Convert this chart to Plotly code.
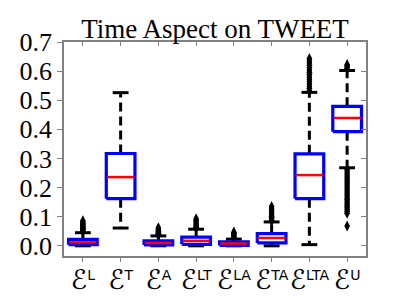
import plotly.graph_objects as go

# ---- data ----
sup_labels = ["L", "T", "A", "LT", "LA", "TA", "LTA", "U"]
categories = ['<span style="font-size:27px">ℰ</span><sup>' + s + '</sup>' for s in sup_labels]
q1 = [0.004, 0.162, 0.003, 0.005, 0.001, 0.010, 0.162, 0.392]
median = [0.012, 0.236, 0.010, 0.017, 0.008, 0.027, 0.243, 0.439]
q3 = [0.022, 0.317, 0.017, 0.030, 0.014, 0.042, 0.316, 0.479]
lower_whisker = [0.000, 0.061, 0.000, 0.000, 0.000, 0.000, 0.004, 0.268]
upper_whisker = [0.045, 0.526, 0.034, 0.057, 0.023, 0.082, 0.527, 0.602]
outliers = [
    [0.048, 0.051, 0.054, 0.057, 0.060, 0.063, 0.066, 0.069, 0.072, 0.075, 0.078, 0.082, 0.086],
    [],
    [0.037, 0.040, 0.043, 0.046, 0.049, 0.052, 0.055, 0.058, 0.062],
    [0.060, 0.063, 0.066, 0.070, 0.074, 0.078, 0.083, 0.088, 0.093],
    [0.026, 0.029, 0.032, 0.035, 0.038, 0.041, 0.044, 0.047],
    [0.085, 0.089, 0.093, 0.097, 0.101, 0.106, 0.111, 0.117, 0.123, 0.129, 0.135],
    [0.532, 0.540, 0.548, 0.556, 0.564, 0.572, 0.580, 0.588, 0.596, 0.604, 0.612,
     0.620, 0.628, 0.636, 0.643],
    [0.606, 0.610, 0.614, 0.618, 0.622,
     0.262, 0.256, 0.250, 0.244, 0.238, 0.232, 0.226, 0.220, 0.214, 0.208, 0.202,
     0.196, 0.190, 0.184, 0.178, 0.172, 0.166, 0.160, 0.154, 0.148, 0.142, 0.136,
     0.130, 0.124, 0.118, 0.112, 0.068],
]
y_ticks = [0.0, 0.1, 0.2, 0.3, 0.4, 0.5, 0.6, 0.7]
y_tick_labels = ["0.0", "0.1", "0.2", "0.3", "0.4", "0.5", "0.6", "0.7"]
title = "Time Aspect on TWEET"

# ---- style ----
BOX_HW = 0.38
CAP_HW = 0.21
positions = list(range(1, len(categories) + 1))

bx, by = [], []
wx, wy = [], []
cx, cy = [], []
mx, my = [], []
ox, oy = [], []
for i, p in enumerate(positions):
    bx += [p - BOX_HW, p + BOX_HW, p + BOX_HW, p - BOX_HW, p - BOX_HW, None]
    by += [q1[i], q1[i], q3[i], q3[i], q1[i], None]
    wx += [p, p, None, p, p, None]
    wy += [q3[i], upper_whisker[i], None, q1[i], lower_whisker[i], None]
    cx += [p - CAP_HW, p + CAP_HW, None, p - CAP_HW, p + CAP_HW, None]
    cy += [upper_whisker[i], upper_whisker[i], None, lower_whisker[i], lower_whisker[i], None]
    mx += [p - BOX_HW + 0.02, p + BOX_HW - 0.02, None]
    my += [median[i], median[i], None]
    ox += [p] * len(outliers[i])
    oy += outliers[i]

fig = go.Figure()
fig.add_trace(go.Scatter(x=wx, y=wy, mode="lines",
                         line=dict(color="black", width=3, dash="9px,5px"), hoverinfo="skip"))
fig.add_trace(go.Scatter(x=cx, y=cy, mode="lines",
                         line=dict(color="black", width=3), hoverinfo="skip"))
fig.add_trace(go.Scatter(x=ox, y=oy, mode="markers",
                         marker=dict(symbol="diamond-tall", size=8, color="black"), hoverinfo="skip"))
fig.add_trace(go.Scatter(x=bx, y=by, mode="lines",
                         line=dict(color="#0000ff", width=3.2), hoverinfo="skip"))
fig.add_trace(go.Scatter(x=mx, y=my, mode="lines",
                         line=dict(color="#ff0000", width=2.5), hoverinfo="skip"))
# invisible trace for mirrored inside-tick axes
fig.add_trace(go.Scatter(x=[positions[0]], y=[0], xaxis="x2", yaxis="y2", mode="markers",
                         marker=dict(opacity=0), hoverinfo="skip"))

axis_col = "#808080"
fig.update_layout(
    width=399, height=299,
    margin=dict(l=49, r=41, t=34, b=33),
    paper_bgcolor="white", plot_bgcolor="white",
    showlegend=False,
    title=dict(text=title, x=0.5, xref="paper", y=0.93, yref="container", yanchor="middle",
               font=dict(family="Liberation Serif", size=27, color="black")),
    xaxis=dict(range=[0.5, 8.5], tickvals=positions, ticktext=categories, tickangle=0,
               showgrid=False, zeroline=False, showline=True, linecolor=axis_col, linewidth=1.5,
               mirror=True, ticks="outside", ticklen=4, tickcolor=axis_col, ticklabelstandoff=3,
               tickfont=dict(family="DejaVu Sans", size=20, color="black")),
    yaxis=dict(range=[-0.035, 0.7], tickvals=y_ticks, ticktext=y_tick_labels,
               showgrid=False, zeroline=False, showline=True, linecolor=axis_col, linewidth=1.5,
               mirror=True, ticks="outside", ticklen=5, tickcolor=axis_col,
               tickfont=dict(family="Liberation Serif", size=26, color="black")),
    xaxis2=dict(range=[0.5, 8.5], tickvals=positions, overlaying="x", side="top",
                showticklabels=False, showgrid=False, zeroline=False, showline=False,
                ticks="inside", ticklen=4, tickcolor=axis_col),
    yaxis2=dict(range=[-0.035, 0.7], tickvals=y_ticks, overlaying="y", side="right",
                showticklabels=False, showgrid=False, zeroline=False, showline=False,
                ticks="inside", ticklen=5, tickcolor=axis_col),
)

fig.write_html("out.html")
